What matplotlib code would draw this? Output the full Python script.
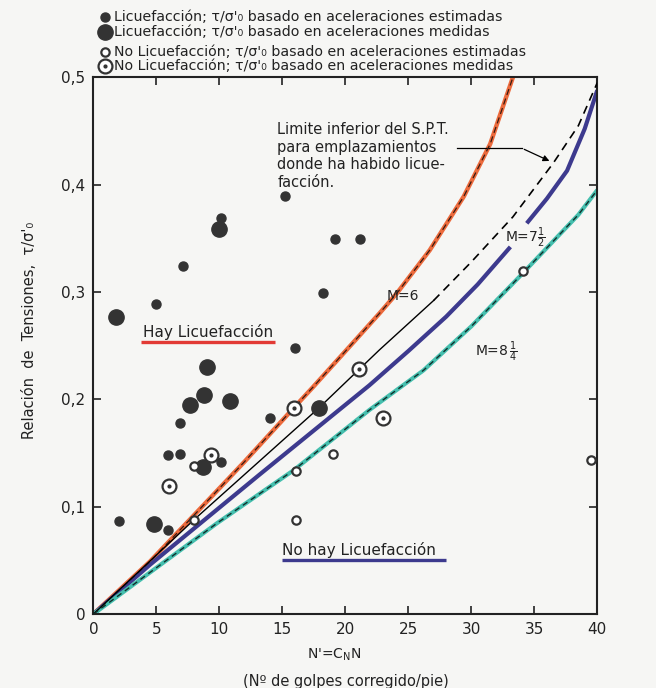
import matplotlib

matplotlib.use("Agg")
import matplotlib.pyplot as plt
from matplotlib.lines import Line2D
from matplotlib.ticker import FuncFormatter

# --- datos ---
liq_est_n = [15.2, 10.1, 7.1, 5.0, 16.0, 19.2, 21.2, 18.2, 14.0, 6.9, 5.9, 6.9, 10.1, 2.0, 5.9]
liq_est_t = [0.389, 0.369, 0.324, 0.289, 0.248, 0.349, 0.349, 0.299, 0.183, 0.178, 0.148, 0.149, 0.142, 0.087, 0.078]

liq_med_n = [10.0, 1.8, 9.0, 8.8, 7.7, 10.8, 8.7, 4.8, 17.9]
liq_med_t = [0.359, 0.277, 0.230, 0.204, 0.195, 0.198, 0.137, 0.084, 0.192]

noliq_est_n = [8.0, 8.0, 16.1, 16.1, 19.0, 34.1, 39.5]
noliq_est_t = [0.138, 0.088, 0.088, 0.133, 0.149, 0.320, 0.143]

noliq_med_n = [9.3, 6.0, 15.9, 21.1, 23.0]
noliq_med_t = [0.148, 0.119, 0.192, 0.228, 0.183]

m6_n = [0, 4.5, 7.9, 12.0, 15.9, 17.4, 20.4, 22.7, 24.1, 26.7, 29.4, 31.5, 33.3]
m6_t = [0, 0.049, 0.091, 0.142, 0.192, 0.211, 0.250, 0.280, 0.299, 0.339, 0.389, 0.438, 0.500]

spt_solid_n = [0, 8.0, 17.9, 21.1, 22.7, 27.0]
spt_solid_t = [0, 0.088, 0.192, 0.228, 0.246, 0.292]
spt_dash_n = [27.0, 30.0, 33.3, 36.5, 38.5, 40.0]
spt_dash_t = [0.292, 0.328, 0.370, 0.420, 0.455, 0.495]

m75_lo_n = [0, 4.5, 13.2, 21.9, 25.0, 28.0, 30.5, 33.1]
m75_lo_t = [0, 0.046, 0.130, 0.213, 0.245, 0.277, 0.307, 0.342]
m75_hi_n = [34.4, 36.0, 37.6, 39.0, 40.0]
m75_hi_t = [0.364, 0.387, 0.413, 0.452, 0.488]

m825_n = [0, 9.8, 15.9, 21.9, 26.2, 30.0, 33.8, 36.8, 38.5, 40.0]
m825_t = [0, 0.0845, 0.134, 0.190, 0.227, 0.268, 0.314, 0.351, 0.372, 0.395]

x_ticks = [0, 5, 10, 15, 20, 25, 30, 35, 40]
y_ticks = [0, 0.1, 0.2, 0.3, 0.4, 0.5]

legend_labels = [
    "Licuefacción; τ/σ'₀ basado en aceleraciones estimadas",
    "Licuefacción; τ/σ'₀ basado en aceleraciones medidas",
    "No Licuefacción; τ/σ'₀ basado en aceleraciones estimadas",
    "No Licuefacción; τ/σ'₀ basado en aceleraciones medidas",
]

dot_color = "#333333"
ink = "#222222"
bg = "#f6f6f4"

small_filled = dict(marker="o", ms=6.5, color=dot_color, mec=dot_color, ls="none")
big_filled = dict(marker="o", ms=11, color=dot_color, mec=dot_color, ls="none")
small_open = dict(marker="o", ms=6, mfc="white", mec=dot_color, mew=1.6, ls="none")
big_open = dict(marker="o", ms=10, mfc="white", mec=dot_color, mew=1.6, ls="none")
centre_dot = dict(marker="o", ms=2, color=dot_color, ls="none")

fig = plt.figure(figsize=(6.56, 6.88), dpi=100, facecolor=bg)
ax = fig.add_axes([0.1425, 0.1076, 0.768, 0.780], facecolor=bg)

# curvas
ax.plot(m6_n, m6_t, color="#ec6a3c", lw=3.2, solid_capstyle="butt", zorder=2)
ax.plot(m6_n, m6_t, color="#3a1a10", lw=0.9, ls=(0, (5, 3)), zorder=3)

ax.plot(spt_solid_n, spt_solid_t, color="black", lw=1.0, zorder=3)
ax.plot(spt_dash_n, spt_dash_t, color="black", lw=1.2, ls=(0, (5, 3.5)), zorder=3)

for n, t in ((m75_lo_n, m75_lo_t), (m75_hi_n, m75_hi_t)):
    ax.plot(n, t, color="#3d3a8e", lw=3.0, solid_capstyle="butt", zorder=2)

ax.plot(m825_n, m825_t, color="#45bfae", lw=3.0, solid_capstyle="butt", zorder=2)
ax.plot(m825_n, m825_t, color="#10302c", lw=1.0, ls=(0, (4, 3)), zorder=3)

# puntos
ax.plot(liq_est_n, liq_est_t, zorder=4, **small_filled)
ax.plot(liq_med_n, liq_med_t, zorder=4, **big_filled)
ax.plot(noliq_est_n, noliq_est_t, zorder=4, **small_open)
ax.plot(noliq_med_n, noliq_med_t, zorder=4, **big_open)
ax.plot(noliq_med_n, noliq_med_t, zorder=5, **centre_dot)

# textos dentro del grafico
ax.text(14.6, 0.458, "Limite inferior del S.P.T.\npara emplazamientos\ndonde ha habido licue-\nfacción.",
        va="top", ha="left", linespacing=1.2, fontsize=10.5, color=ink)
ax.plot([28.9, 34.0], [0.434, 0.434], color="black", lw=0.9)
ax.annotate("", xy=(36.4, 0.421), xytext=(34.0, 0.434),
            arrowprops=dict(arrowstyle="-|>", color="black", lw=0.9, mutation_scale=9))

ax.text(24.6, 0.296, "M=6", ha="center", va="center", fontsize=10, color=ink)
ax.text(34.3, 0.350, r"M=7$\frac{1}{2}$", ha="center", va="center", fontsize=10, color=ink)
ax.text(32.0, 0.244, r"M=8$\,\frac{1}{4}$", ha="center", va="center", fontsize=10, color=ink)

ax.text(3.9, 0.263, "Hay Licuefacción", ha="left", va="center", fontsize=11, color=ink)
ax.plot([3.8, 14.4], [0.253, 0.253], color="#e23a35", lw=2.4, solid_capstyle="butt")
ax.text(15.0, 0.060, "No hay Licuefacción", ha="left", va="center", fontsize=11, color=ink)
ax.plot([15.0, 28.0], [0.050, 0.050], color="#3d3a8e", lw=2.4, solid_capstyle="butt")

# ejes
ax.set_xlim(0, 40)
ax.set_ylim(0, 0.5)
ax.set_xticks(x_ticks)
ax.set_yticks(y_ticks)
ax.yaxis.set_major_formatter(FuncFormatter(lambda v, _: "0" if v == 0 else f"{v:.1f}".replace(".", ",")))
ax.tick_params(direction="in", length=6, width=1.2, top=True, right=True, labelsize=11,
               colors=ink, pad=6)
for spine in ax.spines.values():
    spine.set_linewidth(1.5)
    spine.set_color(ink)

fig.text(0.51, 0.048, "N'=C$_{\\mathrm{N}}$N", ha="center", va="center", fontsize=10, color=ink)
fig.text(0.528, 0.010, "(Nº de golpes corregido/pie)", ha="center", va="center", fontsize=10.5, color=ink)
fig.text(0.045, 0.52, "Relación  de  Tensiones,  τ/σ'₀", rotation=90, ha="center", va="center",
         fontsize=10.5, color=ink)

# leyenda dibujada a mano, sobre el grafico
legend_y = [0.9753, 0.9535, 0.9244, 0.9041]
legend_styles = [[small_filled], [big_filled], [small_open], [big_open, centre_dot]]
for y, styles, label in zip(legend_y, legend_styles, legend_labels):
    for style in styles:
        fig.add_artist(Line2D([0.160], [y], transform=fig.transFigure, **style))
    fig.text(0.174, y, label, ha="left", va="center", fontsize=10.2, color=ink)

fig.savefig("out.png", dpi=100, facecolor=bg)
